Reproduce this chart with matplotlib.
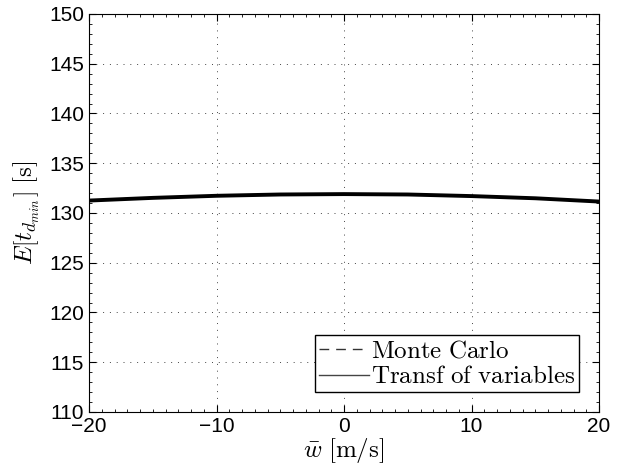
import numpy as np
import matplotlib
matplotlib.use('Agg')
import matplotlib.pyplot as plt
from matplotlib.ticker import MultipleLocator

plt.rcParams['mathtext.fontset'] = 'cm'
plt.rcParams['font.family'] = ['Liberation Sans', 'DejaVu Sans']

# data
w_bar = [-20, -15, -10, -5, 0, 5, 10, 15, 20]
monte_carlo = [131.30, 131.55, 131.75, 131.88, 131.92, 131.88, 131.72, 131.50, 131.20]
transf_var = [131.25, 131.52, 131.73, 131.86, 131.90, 131.86, 131.70, 131.48, 131.15]

fig = plt.figure(figsize=(6.23, 4.74), dpi=100)
ax = fig.add_axes([89/623, 62/474, 510/623, 398/474])

ax.plot(w_bar, transf_var, color='black', linewidth=2.8, label=r'$\mathrm{Transf\ of\ variables}$')
ax.plot(w_bar, monte_carlo, color='black', linewidth=1.0, linestyle=(0, (7, 5)),
        label=r'$\mathrm{Monte\ Carlo}$')

ax.set_xlim(-20, 20)
ax.set_ylim(110, 150)
ax.set_xticks([-20, -10, 0, 10, 20])
ax.set_yticks(np.arange(110, 151, 5))
ax.xaxis.set_minor_locator(MultipleLocator(1))
ax.yaxis.set_minor_locator(MultipleLocator(1))
ax.tick_params(which='both', direction='in', top=True, right=True, labelsize=15)
ax.tick_params(which='major', length=5)
ax.tick_params(which='minor', length=2.5)
ax.grid(True, linestyle=(0, (1, 6)), color='#444444', linewidth=0.7)

ax.set_xlabel(r'$\bar{w}\ [\mathrm{m/s}]$', fontsize=18, labelpad=0)
ax.set_ylabel(r'$E\left[t_{d_{min}}\right]\ [\mathrm{s}]$', fontsize=18, labelpad=5)

handles, labels = ax.get_legend_handles_labels()
leg = ax.legend(handles[::-1], labels[::-1], loc='lower right', fontsize=18,
                fancybox=False, framealpha=1, edgecolor='black',
                handlelength=2.0, handletextpad=0.1, borderpad=0.15,
                labelspacing=0.05, borderaxespad=0.8)
leg.get_frame().set_linewidth(1.0)
leg.legend_handles[0].set_color('#333333')
leg.legend_handles[1].set_linewidth(1.0)
leg.legend_handles[1].set_color('#444444')

fig.savefig('out.png', dpi=100)
